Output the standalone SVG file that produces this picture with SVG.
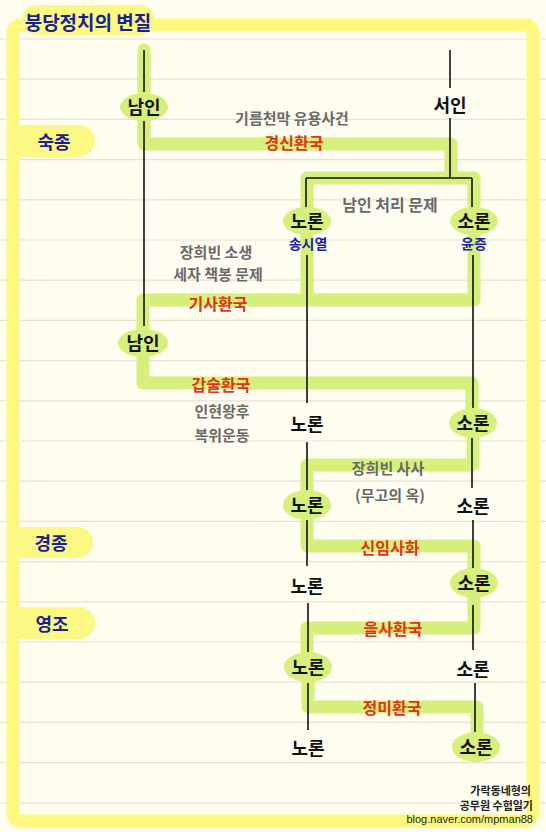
<svg xmlns="http://www.w3.org/2000/svg" width="546" height="832" viewBox="0 0 546 832">
<defs>
<style>
text{font-family:"Noto Sans CJK KR","Noto Sans",sans-serif;text-anchor:middle;dominant-baseline:central}
.rule{stroke:#e6e2cf;stroke-width:1.2}
.frame{fill:none;stroke:#fdf97e;stroke-width:13;stroke-linejoin:round}
.pill{fill:#fbf884}
.band{fill:none;stroke:#d7f07c;stroke-width:13;stroke-linejoin:round;stroke-linecap:round}
.ln{fill:none;stroke:#111;stroke-width:1.6}
.node{fill:#d7f07c}
.nt{font-size:18px;font-weight:bold;fill:#111}
.king{font-size:18px;font-weight:bold;fill:#1b1f96}
.gray{font-size:15px;fill:#6a6a6a;font-weight:bold}
.red{font-size:16px;font-weight:bold;fill:#e2321d}
.blue{font-size:14px;font-weight:bold;fill:#1b1fa8}
.foot{font-size:11px;fill:#222;text-anchor:end;font-weight:bold}
</style>
</defs>
<rect width="546" height="832" fill="#fefdf0"/>
<g id="rules">
<path class="rule" d="M0,39H546M0,79.2H546M0,119.4H546M0,159.6H546M0,199.8H546M0,240H546M0,280.2H546M0,320.4H546M0,360.6H546M0,400.8H546M0,441H546M0,481.2H546M0,521.4H546M0,561.6H546M0,601.8H546M0,642H546M0,682.2H546M0,722.4H546M0,762.6H546M0,802.8H546"/>
</g>
<rect class="frame" x="13" y="25" width="520" height="796" rx="8"/>
<g id="title">
<rect class="pill" x="22" y="5" width="133" height="30" rx="15"/>
<text class="king" x="88" y="21" style="font-size:19px">붕당정치의 변질</text>
</g>
<g id="king-sukjong">
<rect class="pill" x="8" y="125" width="87" height="32" rx="16"/>
<text class="king" x="54" y="141">숙종</text>
</g>
<g id="king-gyeongjong">
<rect class="pill" x="7" y="527" width="86" height="31" rx="15.5"/>
<text class="king" x="51" y="542">경종</text>
</g>
<g id="king-yeongjo">
<rect class="pill" x="7" y="607" width="88" height="32" rx="16"/>
<text class="king" x="52" y="623">영조</text>
</g>
<g id="connectors">
<path class="band" d="M144,50V107"/>
<path class="band" d="M144,107V144H451V178"/>
<path class="band" d="M307,221V178H474V221"/>
<path class="band" d="M474,221V300H143V343M307,221V300"/>
<path class="band" d="M143,343V383H472V422"/>
<path class="band" d="M473,422V465H307V505"/>
<path class="band" d="M307,505V546H474V583"/>
<path class="band" d="M474,583V628H307V667"/>
<path class="band" d="M308,667V707H477V747"/>
<path class="ln" d="M144,50V92M144,121V326M450,50V88M450,118V178M306,178H472M306,178V207M472,178V207M307,255V403M473,255V408M307,442V490M472,438V488M307,520V566M473,520V569M308,603V652M473,605V650M308,683V730M475,683V732"/>
</g>
<g id="n-namin1"><ellipse class="node" cx="144" cy="107" rx="24" ry="14"/><text class="nt" x="144" y="106">남인</text></g>
<g id="n-seoin"><text class="nt" x="450" y="104">서인</text></g>
<g id="n-noron1"><ellipse class="node" cx="307" cy="221" rx="24" ry="14"/><text class="nt" x="307" y="220">노론</text><text class="blue" x="308" y="243">송시열</text></g>
<g id="n-soron1"><ellipse class="node" cx="474" cy="221" rx="24" ry="14"/><text class="nt" x="474" y="220">소론</text><text class="blue" x="474" y="243">윤증</text></g>
<g id="n-namin2"><ellipse class="node" cx="143" cy="343" rx="25" ry="14"/><text class="nt" x="143" y="342">남인</text></g>
<g id="n-noron2"><text class="nt" x="307" y="423">노론</text></g>
<g id="n-soron2"><ellipse class="node" cx="473" cy="423" rx="24" ry="15"/><text class="nt" x="473" y="422">소론</text></g>
<g id="n-noron3"><ellipse class="node" cx="307" cy="505" rx="24" ry="15"/><text class="nt" x="307" y="504">노론</text></g>
<g id="n-soron3"><text class="nt" x="473" y="505">소론</text></g>
<g id="n-noron4"><text class="nt" x="307" y="585">노론</text></g>
<g id="n-soron4"><ellipse class="node" cx="474" cy="583" rx="24" ry="15"/><text class="nt" x="474" y="582">소론</text></g>
<g id="n-noron5"><ellipse class="node" cx="308" cy="667" rx="24" ry="15"/><text class="nt" x="308" y="666">노론</text></g>
<g id="n-soron5"><text class="nt" x="473" y="668">소론</text></g>
<g id="n-noron6"><text class="nt" x="308" y="747">노론</text></g>
<g id="n-soron6"><ellipse class="node" cx="476" cy="747" rx="24" ry="15"/><text class="nt" x="476" y="746">소론</text></g>
<g id="labels">
<text class="gray" x="292" y="117">기름천막 유용사건</text>
<text class="red" x="294" y="142">경신환국</text>
<text class="gray" x="390" y="204" style="font-size:16px">남인 처리 문제</text>
<text class="gray" x="216" y="251">장희빈 소생</text>
<text class="gray" x="218" y="273">세자 책봉 문제</text>
<text class="red" x="218" y="303">기사환국</text>
<text class="red" x="221" y="384">갑술환국</text>
<text class="gray" x="222" y="410">인현왕후</text>
<text class="gray" x="222" y="434">복위운동</text>
<text class="gray" x="388" y="467">장희빈 사사</text>
<text class="gray" x="390" y="494">(무고의 옥)</text>
<text class="red" x="390" y="547">신임사화</text>
<text class="red" x="393" y="628">을사환국</text>
<text class="red" x="392" y="707">정미환국</text>
</g>
<g id="footer">
<text class="foot" x="531" y="790">가락동네형의</text>
<text class="foot" x="533" y="805">공무원 수험일기</text>
<text class="foot" x="533" y="819" style="font-family:'Liberation Sans',sans-serif;font-weight:normal">blog.naver.com/mpman88</text>
</g>
</svg>
